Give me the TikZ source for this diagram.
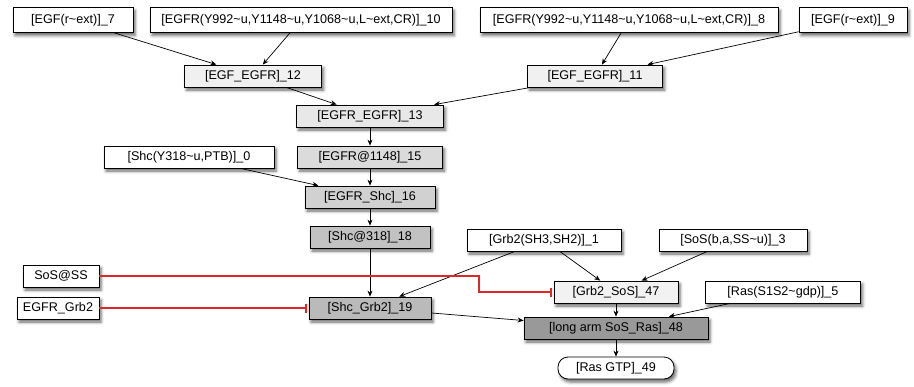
\documentclass[tikz,border=0pt]{standalone}
\usepackage{fontspec}
\setmainfont{Liberation Sans}
\usepackage{xcolor}
\usepackage{tikz}
\usetikzlibrary{arrows.meta, positioning, shadows.blur}
\newcommand{\tild}{\textasciitilde}
\definecolor{rouge}{HTML}{E02828}

\begin{document}
\begin{tikzpicture}[x=1pt, y=-1pt,
  bloc/.style={draw, line width=0.8pt, fill=white, minimum height=22pt, inner sep=0pt, font=\fontsize{12.6}{15}\selectfont,
    blur shadow={shadow xshift=2pt, shadow yshift=-3pt, shadow blur radius=3pt, shadow opacity=60}},
  haut/.style={bloc, minimum height=25pt},
  fleche/.style={-{Stealth[length=6pt, width=5pt]}, line width=0.7pt},
  inhib/.style={-{Bar[width=9pt]}, line width=1.6pt, draw=rouge, shorten >=2pt}
]
  \useasboundingbox (0,0) rectangle (914,386);
  % entrees du haut
  \node[haut, minimum width=120] (egf7) at (73,20) {[EGF(r\tild ext)]\_7};
  \node[haut, minimum width=302] (egfr10) at (301,20) {[EGFR(Y992\tild u,Y1148\tild u,Y1068\tild u,L\tild ext,CR)]\_10};
  \node[haut, minimum width=298] (egfr8) at (629,20) {[EGFR(Y992\tild u,Y1148\tild u,Y1068\tild u,L\tild ext,CR)]\_8};
  \node[haut, minimum width=108] (egf9) at (853,20) {[EGF(r\tild ext)]\_9};
  % complexes
  \node[bloc, fill=black!6, minimum width=137] (egfegfr12) at (253,76) {[EGF\_EGFR]\_12};
  \node[bloc, fill=black!6, minimum width=135] (egfegfr11) at (595,76) {[EGF\_EGFR]\_11};
  \node[bloc, fill=black!9, minimum width=147] (dimer13) at (370,116) {[EGFR\_EGFR]\_13};
  \node[bloc, fill=black!14, minimum width=145] (egfr15) at (370,157) {[EGFR@1148]\_15};
  \node[bloc, minimum width=170] (shc0) at (189,157) {[Shc(Y318\tild u,PTB)]\_0};
  \node[bloc, fill=black!18, minimum width=130] (egfrshc16) at (370,197) {[EGFR\_Shc]\_16};
  \node[bloc, fill=black!24, minimum width=120] (shc18) at (370,237) {[Shc@318]\_18};
  \node[bloc, minimum width=76] (sosss) at (61,276) {SoS@SS};
  \node[bloc, minimum width=82] (egfrgrb2) at (58,308) {EGFR\_Grb2};
  \node[bloc, fill=black!27, minimum width=122] (shcgrb219) at (370,308) {[Shc\_Grb2]\_19};
  \node[bloc, minimum width=154] (grb21) at (544,240) {[Grb2(SH3,SH2)]\_1};
  \node[bloc, minimum width=148] (sos3) at (733,240) {[SoS(b,a,SS\tild u)]\_3};
  \node[bloc, fill=black!5, minimum width=124] (grb2sos47) at (616,292) {[Grb2\_SoS]\_47};
  \node[bloc, minimum width=155] (ras5) at (783,292) {[Ras(S1S2\tild gdp)]\_5};
  \node[bloc, fill=black!40, minimum width=184] (sosras48) at (616,328) {[long arm SoS\_Ras]\_48};
  \node[bloc, rounded corners=10pt, minimum width=116] (rasgtp49) at (616,368) {[Ras GTP]\_49};
  \coordinate (coude) at (479,0);

  \draw[fleche] (egf7) -- (egfegfr12);
  \draw[fleche] (egfr10) -- (egfegfr12);
  \draw[fleche] (egfr8) -- (egfegfr11);
  \draw[fleche] (egf9) -- (egfegfr11);
  \draw[fleche] (egfegfr12) -- (dimer13);
  \draw[fleche] (egfegfr11) -- (dimer13);
  \draw[fleche] (dimer13) -- (egfr15);
  \draw[fleche] (egfr15) -- (egfrshc16);
  \draw[fleche] (shc0) -- (egfrshc16);
  \draw[fleche] (egfrshc16) -- (shc18);
  \draw[fleche] (shc18) -- (shcgrb219);
  \draw[fleche] (grb21) -- (shcgrb219);
  \draw[fleche] (grb21) -- (grb2sos47);
  \draw[fleche] (sos3) -- (grb2sos47);
  \draw[fleche] (shcgrb219) -- (sosras48);
  \draw[fleche] (grb2sos47) -- (sosras48);
  \draw[fleche] (ras5) -- (sosras48);
  \draw[fleche] (sosras48) -- (rasgtp49);
  \draw[inhib] (sosss.east) -- (sosss.east -| coude) |- (grb2sos47.west);
  \draw[inhib] (egfrgrb2) -- (shcgrb219);
\end{tikzpicture}
\end{document}
